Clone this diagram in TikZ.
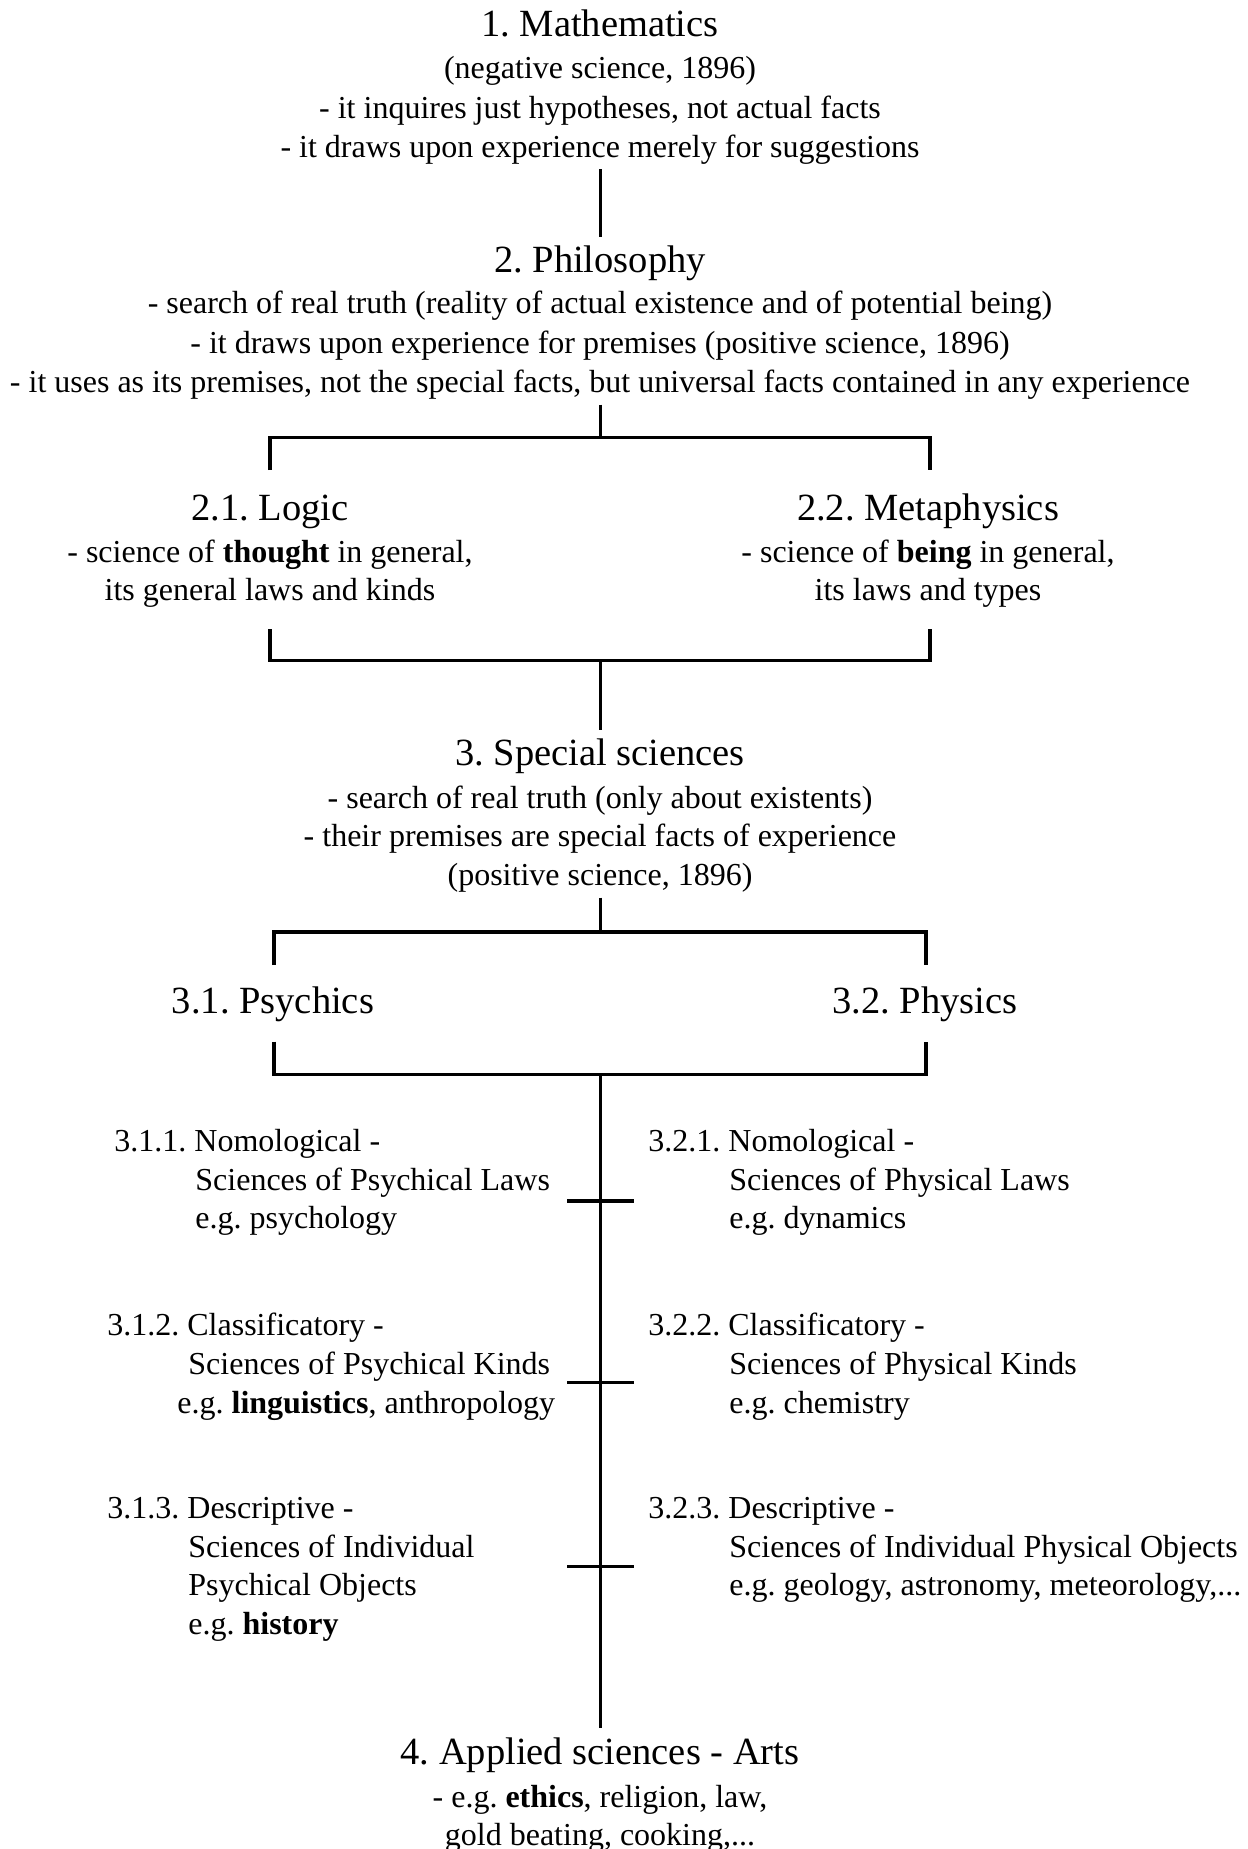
\documentclass[tikz,border=0pt]{standalone}
\usepackage{fontspec}
\setmainfont{Liberation Serif}
\newcommand{\bodyfnt}{\fontsize{16pt}{19.2pt}\selectfont}
\newcommand{\ttlfnt}{\fontsize{19.25pt}{23pt}\selectfont}
\frenchspacing
\begin{document}
\frenchspacing
\begin{tikzpicture}[x=0.5pt,y=-0.5pt,
  body/.style={font=\bodyfnt, inner sep=0pt, anchor=base, yshift=-1.75pt},
  lbody/.style={body, anchor=base west},
  ttl/.style={font=\ttlfnt, inner sep=0pt, anchor=base, yshift=-2.25pt},
  conn/.style={line width=1.5pt},
  brk/.style={line width=1.8pt, line join=miter}]
\useasboundingbox (0,0) rectangle (1248,1849);

% 1. Mathematics
\node[ttl]  (m0) at (600,32) {1. Mathematics};
\node[body] (m1) at (600,74.6) {(negative science, 1896)};
\node[body] (m2) at (600,114.7) {- it inquires just hypotheses, not actual facts};
\node[body] (m3) at (600,153.7) {- it draws upon experience merely for suggestions};

% 2. Philosophy
\node[ttl]  (p0) at (600,268) {2. Philosophy};
\node[body] (p1) at (600,309.5) {- search of real truth (reality of actual existence and of potential being)};
\node[body] (p2) at (600,349.5) {- it draws upon experience for premises (positive science, 1896)};
\node[body] (p3) at (600,388.5) {- it uses as its premises, not the special facts, but universal facts contained in any experience};

% 2.1 / 2.2
\node[ttl]  (l0) at (270,515.7) {2.1. Logic};
\node[body] (l1) at (270,559.4) {- science of \textbf{thought} in general,};
\node[body] (l2) at (270,597.2) {its general laws and kinds};
\node[ttl]  (mp0) at (928,515.7) {2.2. Metaphysics};
\node[body] (mp1) at (928,559.4) {- science of \textbf{being} in general,};
\node[body] (mp2) at (928,597.2) {its laws and types};

% 3. Special sciences
\node[ttl]  (s0) at (600,761.1) {3. Special sciences};
\node[body] (s1) at (600,804.8) {- search of real truth (only about existents)};
\node[body] (s2) at (600,842.6) {- their premises are special facts of experience};
\node[body] (s3) at (600,881.5) {(positive science, 1896)};

% 3.1 / 3.2
\node[ttl] (ps) at (273,1008.8) {3.1. Psychics};
\node[ttl] (ph) at (925,1008.8) {3.2. Physics};

% left column
\node[lbody] (a1) at (114,1148) {3.1.1. Nomological -};
\node[lbody] (a2) at (195,1187) {Sciences of Psychical Laws};
\node[lbody] (a3) at (195,1225) {e.g. psychology};
\node[lbody] (b1) at (107,1332) {3.1.2. Classificatory -};
\node[lbody] (b2) at (188,1371) {Sciences of Psychical Kinds};
\node[lbody] (b3) at (177,1410) {e.g. \textbf{linguistics}, anthropology};
\node[lbody] (c1) at (107,1515) {3.1.3. Descriptive -};
\node[lbody] (c2) at (188,1554) {Sciences of Individual};
\node[lbody] (c3) at (188,1592) {Psychical Objects};
\node[lbody] (c4) at (188,1631) {e.g. \textbf{history}};

% right column
\node[lbody] (d1) at (648,1148) {3.2.1. Nomological -};
\node[lbody] (d2) at (729,1187) {Sciences of Physical Laws};
\node[lbody] (d3) at (729,1225) {e.g. dynamics};
\node[lbody] (e1) at (648,1332) {3.2.2. Classificatory -};
\node[lbody] (e2) at (729,1371) {Sciences of Physical Kinds};
\node[lbody] (e3) at (729,1410) {e.g. chemistry};
\node[lbody] (f1) at (648,1515) {3.2.3. Descriptive -};
\node[lbody] (f2) at (729,1554) {Sciences of Individual Physical Objects};
\node[lbody] (f3) at (729,1592) {e.g. geology, astronomy, meteorology,...};

% 4. Applied sciences
\node[ttl]  (g0) at (600,1760) {4. Applied sciences - Arts};
\node[body] (g1) at (600,1804) {- e.g. \textbf{ethics}, religion, law,};
\node[body] (g2) at (600,1841.7) {gold beating, cooking,...};

% connector coordinates
\coordinate (k1a) at (600,169);
\coordinate (k1b) at (600,237);
\coordinate (k2a) at (600,404.6);
\coordinate (k2b) at (600,437.6);
\coordinate (A1) at (270,470);
\coordinate (A2) at (270,437.6);
\coordinate (A3) at (930,437.6);
\coordinate (A4) at (930,470);
\coordinate (B1) at (270,629);
\coordinate (B2) at (270,660.6);
\coordinate (B3) at (930,660.6);
\coordinate (B4) at (930,629);
\coordinate (k3a) at (600,660.6);
\coordinate (k3b) at (600,730);
\coordinate (k4a) at (600,897.7);
\coordinate (k4b) at (600,932);
\coordinate (C1) at (274,965);
\coordinate (C2) at (274,932);
\coordinate (C3) at (926,932);
\coordinate (C4) at (926,965);
\coordinate (D1) at (274,1041.6);
\coordinate (D2) at (274,1074.6);
\coordinate (D3) at (926,1074.6);
\coordinate (D4) at (926,1041.6);
\coordinate (k5a) at (600,1074.6);
\coordinate (k5b) at (600,1728);
\coordinate (t1a) at (567,1201);
\coordinate (t1b) at (634,1201);
\coordinate (t2a) at (567,1382.5);
\coordinate (t2b) at (634,1382.5);
\coordinate (t3a) at (567,1566.5);
\coordinate (t3b) at (634,1566.5);

\draw[conn] (k1a) -- (k1b);
\draw[conn] (k2a) -- (k2b);
\draw[brk] (A1) -- (A2) -- (A3) -- (A4);
\draw[brk] (B1) -- (B2) -- (B3) -- (B4);
\draw[conn] (k3a) -- (k3b);
\draw[conn] (k4a) -- (k4b);
\draw[brk] (C1) -- (C2) -- (C3) -- (C4);
\draw[brk] (D1) -- (D2) -- (D3) -- (D4);
\draw[conn] (k5a) -- (k5b);
\draw[brk] (t1a) -- (t1b);
\draw[brk] (t2a) -- (t2b);
\draw[brk] (t3a) -- (t3b);
\end{tikzpicture}
\end{document}
